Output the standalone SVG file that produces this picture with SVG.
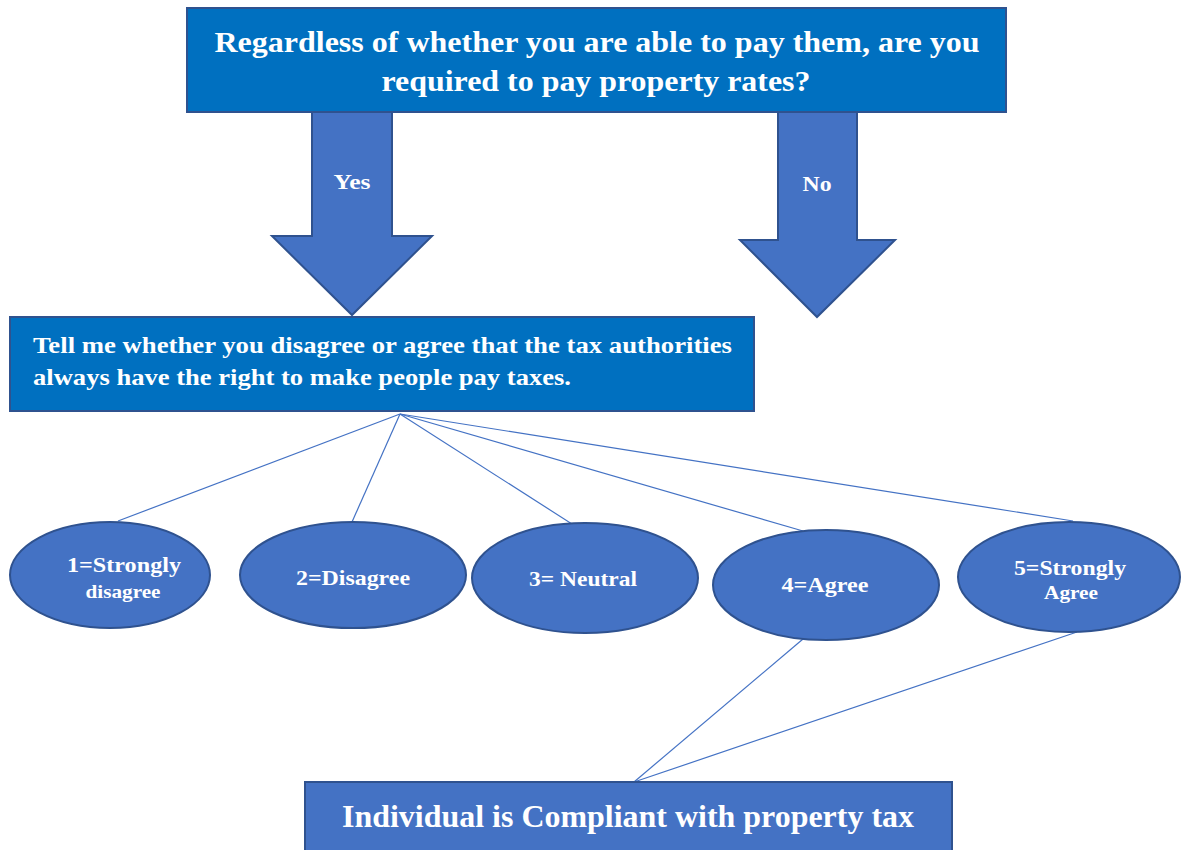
<svg xmlns="http://www.w3.org/2000/svg" width="1181" height="850" viewBox="0 0 1181 850">
<style>
.box{fill:#0070C0;stroke:#2F528F;stroke-width:2}
.box2{fill:#4472C4;stroke:#2F528F;stroke-width:2}
.arr{fill:#4472C4;stroke:#2F528F;stroke-width:2}
.ell{fill:#4472C4;stroke:#2F528F;stroke-width:2}
.t{font-family:"Liberation Serif","Times New Roman",serif;font-weight:bold;fill:#fff}
.c{stroke:#4472C4;stroke-width:1.2;fill:none}
</style>
<rect width="1181" height="850" fill="#fff"/>
<g id="top">
<rect class="box" x="187" y="8" width="819" height="104"/>
<text class="t" x="597" y="52" font-size="30" text-anchor="middle" textLength="765" lengthAdjust="spacingAndGlyphs">Regardless of whether you are able to pay them, are you</text>
<text class="t" x="596" y="91" font-size="30" text-anchor="middle" textLength="429" lengthAdjust="spacingAndGlyphs">required to pay property rates?</text>
</g>
<g id="yes">
<polygon class="arr" points="312,112 392,112 392,236 432,236 352,315 272,236 312,236"/>
<text class="t" x="352" y="189" font-size="21" text-anchor="middle" textLength="37" lengthAdjust="spacingAndGlyphs">Yes</text>
</g>
<g id="no">
<polygon class="arr" points="778,112 857,112 857,240 895,240 817,317 740,240 778,240"/>
<text class="t" x="817" y="191" font-size="21" text-anchor="middle" textLength="29" lengthAdjust="spacingAndGlyphs">No</text>
</g>
<g id="question">
<rect class="box" x="10" y="317" width="744" height="94"/>
<text class="t" x="33" y="353" font-size="24" textLength="699" lengthAdjust="spacingAndGlyphs">Tell me whether you disagree or agree that the tax authorities</text>
<text class="t" x="33" y="385" font-size="24" textLength="538" lengthAdjust="spacingAndGlyphs">always have the right to make people pay taxes.</text>
</g>
<g id="connectors">
<line class="c" x1="400" y1="414" x2="118" y2="521"/>
<line class="c" x1="400" y1="414" x2="352" y2="522"/>
<line class="c" x1="400" y1="414" x2="572" y2="524"/>
<line class="c" x1="400" y1="414" x2="803" y2="531"/>
<line class="c" x1="400" y1="414" x2="1073" y2="521"/>
<line class="c" x1="803" y1="639" x2="634" y2="782"/>
<line class="c" x1="1077" y1="632" x2="634" y2="782"/>
</g>
<g id="o1">
<ellipse class="ell" cx="110" cy="575" rx="100" ry="53"/>
<text class="t" x="124" y="572" font-size="22" text-anchor="middle" textLength="114" lengthAdjust="spacingAndGlyphs">1=Strongly</text>
<text class="t" x="123" y="598" font-size="19" text-anchor="middle" textLength="75" lengthAdjust="spacingAndGlyphs">disagree</text>
</g>
<g id="o2">
<ellipse class="ell" cx="353" cy="575" rx="113" ry="53"/>
<text class="t" x="353" y="585" font-size="22" text-anchor="middle" textLength="114" lengthAdjust="spacingAndGlyphs">2=Disagree</text>
</g>
<g id="o3">
<ellipse class="ell" cx="585" cy="578" rx="113" ry="55"/>
<text class="t" x="583" y="586" font-size="22" text-anchor="middle" textLength="108" lengthAdjust="spacingAndGlyphs">3= Neutral</text>
</g>
<g id="o4">
<ellipse class="ell" cx="826" cy="585" rx="113" ry="55"/>
<text class="t" x="825" y="592" font-size="22" text-anchor="middle" textLength="87" lengthAdjust="spacingAndGlyphs">4=Agree</text>
</g>
<g id="o5">
<ellipse class="ell" cx="1069" cy="577" rx="111" ry="55"/>
<text class="t" x="1070" y="575" font-size="22" text-anchor="middle" textLength="112" lengthAdjust="spacingAndGlyphs">5=Strongly</text>
<text class="t" x="1071" y="599" font-size="19" text-anchor="middle" textLength="54" lengthAdjust="spacingAndGlyphs">Agree</text>
</g>
<g id="result">
<rect class="box2" x="305" y="782" width="647" height="80"/>
<text class="t" x="628" y="827" font-size="31" text-anchor="middle" textLength="572" lengthAdjust="spacingAndGlyphs">Individual is Compliant with property tax</text>
</g>
</svg>
